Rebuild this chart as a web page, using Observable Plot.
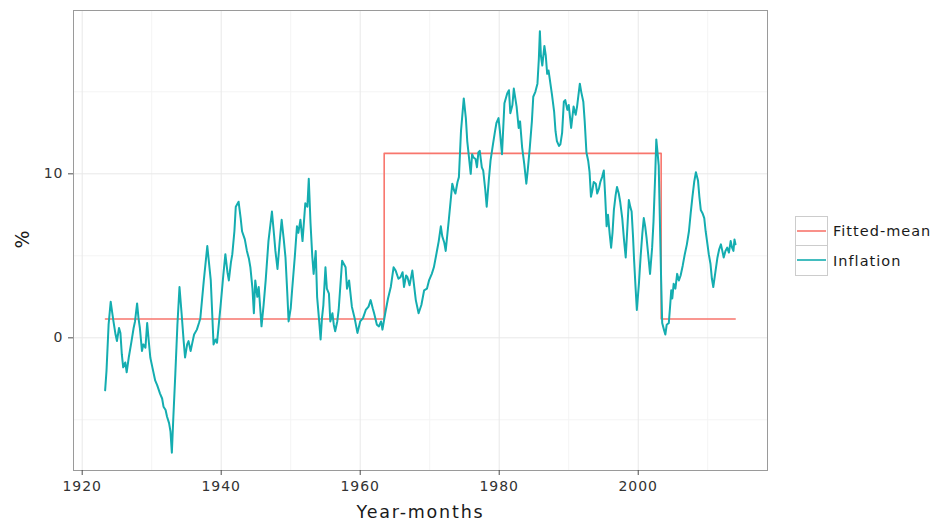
<!DOCTYPE html>
<html>
<head>
<meta charset="utf-8">
<script src="https://cdn.jsdelivr.net/npm/d3@7"></script>
<script src="https://cdn.jsdelivr.net/npm/@observablehq/plot@0.6"></script>
<style>
  html, body { margin: 0; padding: 0; background: #fff; }
  #wrap { position: relative; width: 940px; height: 529px; overflow: hidden; }
  #chart svg text { letter-spacing: 0.07em; }
  #legend { position: absolute; left: 795px; top: 216px; font-family: "DejaVu Sans", sans-serif; font-size: 14.5px; color: #1a1a1a; letter-spacing: 0.07em; }
  #legend .row { display: flex; align-items: center; height: 30px; }
  #legend .key { width: 33px; height: 30px; box-sizing: border-box; border: 1px solid #cccccc; background: #fff; margin-right: 5px; }
  #legend .row + .row .key { border-top: none; height: 30px; }
</style>
</head>
<body>
<div id="wrap">
  <div id="chart"></div>
  <div id="legend"></div>
</div>
<script>
// ---- data ----
const seriesNames = ["Fitted-mean", "Inflation"];
const seriesColors = ["#F8766D", "#14ADB0"];

const xTicks = [1920, 1940, 1960, 1980, 2000];
const xMinorTicks = [1930, 1950, 1970, 1990, 2010];
const yTicks = [0, 10];
const yMinorTicks = [-5, 5, 15];

// fitted mean (piecewise constant), break points
const fittedYear = [1923.35, 1963.45, 2003.3, 2013.95];
const fittedValue = [1.15, 11.25, 1.15, 1.15];

// inflation series (year, %)
const inflationYear = [
  1923.3, 1923.5, 1923.8, 1924.1, 1924.3, 1924.5, 1924.8, 1925.0, 1925.3, 1925.5,
  1925.7, 1925.9, 1926.2, 1926.4, 1926.7, 1927.1, 1927.4, 1927.6, 1927.9, 1928.1,
  1928.3, 1928.6, 1928.8, 1929.1, 1929.35, 1929.6, 1929.8, 1930.1, 1930.5, 1930.8,
  1931.2, 1931.5, 1931.7, 1932.0, 1932.2, 1932.5, 1932.7, 1932.9, 1933.1, 1933.4,
  1933.7, 1934.0, 1934.3, 1934.6, 1934.8, 1935.1, 1935.3, 1935.6, 1935.8, 1936.1,
  1936.5, 1936.8, 1937.0, 1937.5, 1938.0, 1938.5, 1938.9, 1939.2, 1939.4, 1939.9,
  1940.3, 1940.6, 1940.9, 1941.1, 1941.4, 1941.6, 1941.9, 1942.1, 1942.5, 1942.8,
  1943.0, 1943.4, 1943.7, 1944.0, 1944.2, 1944.5, 1944.7, 1944.9, 1945.2, 1945.4,
  1945.8, 1946.1, 1946.4, 1946.8, 1947.3, 1947.6, 1947.8, 1948.1, 1948.4, 1948.7,
  1949.0, 1949.25, 1949.5, 1949.7, 1950.0, 1950.2, 1950.6, 1950.9, 1951.1, 1951.4,
  1951.7, 1952.1, 1952.4, 1952.6, 1952.85, 1953.1, 1953.3, 1953.6, 1953.8, 1954.1,
  1954.3, 1954.5, 1954.7, 1955.0, 1955.2, 1955.5, 1955.7, 1956.0, 1956.2, 1956.4,
  1956.7, 1956.9, 1957.2, 1957.4, 1957.9, 1958.1, 1958.4, 1958.8, 1959.2, 1959.6,
  1960.0, 1960.4, 1960.8, 1961.2, 1961.5, 1961.8, 1962.0, 1962.4, 1962.7, 1963.0,
  1963.2, 1963.6, 1964.0, 1964.4, 1964.8, 1965.1, 1965.5, 1965.8, 1966.1, 1966.3,
  1966.6, 1966.8, 1967.1, 1967.5, 1968.0, 1968.4, 1968.8, 1969.2, 1969.6, 1969.9,
  1970.3, 1970.6, 1971.0, 1971.3, 1971.6, 1971.8, 1972.1, 1972.3, 1972.75, 1973.25,
  1973.5, 1973.7, 1974.0, 1974.2, 1974.5, 1974.9, 1975.2, 1975.4, 1975.6, 1975.9,
  1976.1, 1976.3, 1976.6, 1976.8, 1977.0, 1977.2, 1977.5, 1977.7, 1978.0, 1978.2,
  1978.5, 1978.75, 1979.1, 1979.4, 1979.6, 1979.9, 1980.1, 1980.4, 1980.75, 1981.15,
  1981.4, 1981.6, 1981.9, 1982.1, 1982.5, 1982.8, 1983.0, 1983.3, 1983.6, 1983.9,
  1984.1, 1984.4, 1984.7, 1984.9, 1985.2, 1985.5, 1985.7, 1985.85, 1986.0, 1986.2,
  1986.5, 1986.7, 1986.9, 1987.1, 1987.3, 1987.6, 1987.9, 1988.1, 1988.3, 1988.6,
  1988.8, 1989.05, 1989.3, 1989.5, 1989.8, 1990.0, 1990.35, 1990.7, 1991.0, 1991.2,
  1991.6, 1991.8, 1992.1, 1992.3, 1992.55, 1992.8, 1993.0, 1993.2, 1993.4, 1993.6,
  1993.9, 1994.1, 1994.35, 1994.55, 1994.8, 1995.05, 1995.25, 1995.45, 1995.65, 1995.9,
  1996.1, 1996.3, 1996.5, 1996.75, 1996.95, 1997.2, 1997.4, 1997.7, 1997.95, 1998.2,
  1998.45, 1998.65, 1998.85, 1999.05, 1999.25, 1999.4, 1999.6, 1999.8, 2000.1, 2000.35,
  2000.6, 2000.8, 2001.0, 2001.2, 2001.5, 2001.7, 2002.0, 2002.2, 2002.45, 2002.6,
  2002.8, 2002.95, 2003.1, 2003.3, 2003.45, 2003.7, 2003.9, 2004.1, 2004.4, 2004.6,
  2004.75, 2004.9, 2005.1, 2005.35, 2005.6, 2005.85, 2006.1, 2006.4, 2006.7, 2007.0,
  2007.3, 2007.55, 2007.8, 2008.05, 2008.3, 2008.6, 2008.8, 2009.0, 2009.25, 2009.5,
  2009.7, 2009.9, 2010.15, 2010.4, 2010.6, 2010.8, 2011.1, 2011.4, 2011.65, 2011.9,
  2012.1, 2012.3, 2012.55, 2012.8, 2013.05, 2013.3, 2013.5, 2013.7, 2013.85, 2014.0
];
const inflationValue = [
  -3.2, -2.0, 0.8, 2.2, 1.6, 1.0, 0.2, -0.2, 0.6, 0.3,
  -1.0, -1.8, -1.5, -2.1, -1.2, -0.2, 0.6, 1.0, 2.1, 1.2,
  0.6, -0.8, -0.4, -0.6, 0.9, -0.3, -1.2, -1.8, -2.6, -2.9,
  -3.4, -3.7, -4.2, -4.4, -4.8, -5.2, -5.7, -7.0, -5.0, -2.2,
  0.8, 3.1, 1.5, -0.2, -1.2, -0.4, -0.2, -0.8, -0.4, 0.2,
  0.5, 0.9, 1.2, 3.5, 5.6, 3.5, -0.4, -0.1, -0.3, 1.9,
  3.8, 5.1, 4.0, 3.5, 4.6, 5.1, 6.5, 8.0, 8.3, 7.3,
  6.5, 6.0, 5.3, 4.8, 4.3, 3.0, 1.5, 3.5, 2.5, 3.1,
  0.7, 2.0, 3.5, 5.9, 7.7, 6.3, 5.3, 4.2, 5.8, 7.2,
  6.0, 4.9, 2.8, 1.0, 1.8, 2.9, 5.0, 6.8, 6.4, 7.2,
  5.9, 8.2, 8.0, 9.7, 7.0, 5.0, 3.9, 5.3, 2.5, 1.0,
  -0.1, 1.2, 2.0, 4.3, 3.0, 2.7, 1.0, 1.5, 0.8, 0.4,
  1.0, 1.7, 3.5, 4.7, 4.3, 3.0, 3.5, 1.9, 1.2, 0.3,
  1.0, 1.2, 1.7, 1.9, 2.3, 1.8, 1.5, 0.8, 0.7, 1.0,
  0.5, 1.5, 2.4, 3.1, 4.3, 4.1, 3.6, 3.7, 4.0, 3.1,
  3.8, 3.7, 3.2, 4.1, 2.3, 1.5, 2.0, 2.9, 3.0, 3.5,
  3.9, 4.3, 5.2, 5.9, 6.8, 6.2, 5.8, 5.3, 7.2, 9.4,
  9.0, 8.8, 9.5, 9.8, 12.6, 14.6, 13.4, 12.0, 11.2, 10.0,
  11.2, 11.0, 10.9, 10.4, 11.3, 11.4, 10.4, 10.2, 9.0, 8.0,
  9.6, 10.8, 11.8, 12.6, 13.1, 13.4, 12.6, 11.2, 14.3, 14.9,
  15.1, 13.7, 14.2, 15.2, 14.1, 12.8, 13.2, 11.6, 10.6, 9.4,
  10.2, 11.6, 13.2, 14.7, 15.0, 15.5, 17.0, 18.7, 17.2, 16.6,
  17.8, 17.2, 16.1, 16.3, 15.7, 14.8, 13.8, 12.6, 12.0, 11.7,
  11.8, 12.5, 14.4, 14.5, 13.9, 14.2, 12.8, 14.1, 13.6, 14.1,
  15.5, 15.0, 14.4, 13.2, 11.3, 10.8, 10.1, 8.6, 9.0, 9.5,
  9.4, 8.8, 9.1, 9.5, 9.8, 10.2, 8.6, 6.8, 7.5, 6.3,
  5.5, 6.4, 7.8, 8.7, 9.2, 8.8, 8.3, 7.3, 6.0, 4.9,
  6.8, 8.4, 8.0, 7.7, 6.2, 4.8, 3.2, 1.7, 3.3, 5.0,
  6.4, 7.3, 6.8, 6.1, 4.8, 3.9, 5.5, 7.1, 10.0, 12.1,
  11.2, 10.5, 7.5, 3.5, 0.9, 0.5, 0.2, 0.8, 0.9, 2.0,
  2.9, 2.4, 3.3, 3.0, 3.9, 3.5, 3.8, 4.4, 5.1, 5.7,
  6.5, 7.6, 8.6, 9.5, 10.1, 9.6, 8.6, 7.8, 7.6, 7.3,
  6.5, 5.9, 5.1, 4.5, 3.6, 3.1, 4.0, 4.9, 5.4, 5.7,
  5.3, 4.9, 5.3, 5.5, 5.2, 5.9, 5.5, 5.3, 6.0, 5.7
];

// ---- build tables ----
const fitted = fittedYear.map((t, i) => ({t, v: fittedValue[i], s: seriesNames[0]}));
const inflation = inflationYear.map((t, i) => ({t, v: inflationValue[i], s: seriesNames[1]}));

const chart = Plot.plot({
  width: 780,
  height: 529,
  marginLeft: 73,
  marginRight: 13,
  marginTop: 10,
  marginBottom: 59,
  style: {fontFamily: "'DejaVu Sans', sans-serif", fontSize: "14px", color: "#333333", background: "#fff"},
  x: {domain: [1918.75, 2018.6]},
  y: {domain: [-8.09, 19.96]},
  color: {domain: seriesNames, range: seriesColors},
  marks: [
    Plot.gridX(xMinorTicks, {stroke: "#f4f4f4", strokeOpacity: 1, strokeWidth: 1}),
    Plot.gridY(yMinorTicks, {stroke: "#f4f4f4", strokeOpacity: 1, strokeWidth: 1}),
    Plot.gridX(xTicks, {stroke: "#e8e8e8", strokeOpacity: 1, strokeWidth: 1}),
    Plot.gridY(yTicks, {stroke: "#e8e8e8", strokeOpacity: 1, strokeWidth: 1}),
    Plot.line(fitted, {x: "t", y: "v", stroke: "s", curve: "step-after", strokeWidth: 1.6}),
    Plot.line(inflation, {x: "t", y: "v", stroke: "s", strokeWidth: 2}),
    Plot.frame({stroke: "#9a9a9a", strokeWidth: 1}),
    Plot.axisX(xTicks, {tickSize: 5, tickPadding: 6, tickFormat: d => String(d), label: null, stroke: "#4d4d4d"}),
    Plot.axisY(yTicks, {tickSize: 5, tickPadding: 5, tickFormat: d => String(d), label: null, stroke: "#4d4d4d"}),
    Plot.text(["Year-months"], {frameAnchor: "bottom", dy: 47, fontSize: 17.5, fill: "#1a1a1a"}),
    Plot.text(["%"], {frameAnchor: "left", dx: -51, dy: 8, rotate: -90, fontSize: 19, fill: "#1a1a1a"})
  ]
});
document.getElementById("chart").appendChild(chart);

// axis title letter spacing (the reference is horizontally stretched)
chart.querySelectorAll("text").forEach(t => {
  if (t.textContent === "Year-months") t.style.letterSpacing = "1.8px";
  if (t.textContent === "%") t.style.letterSpacing = "0";
});

// ---- legend ----
const legend = document.getElementById("legend");
seriesNames.forEach((name, i) => {
  const row = document.createElement("div");
  row.className = "row";
  row.innerHTML = `<span class="key"><svg width="31" height="28" style="display:block"><line x1="1" x2="30" y1="14" y2="14" stroke="${seriesColors[i]}" stroke-width="1.6"/></svg></span><span>${name}</span>`;
  legend.appendChild(row);
});
</script>
</body>
</html>
